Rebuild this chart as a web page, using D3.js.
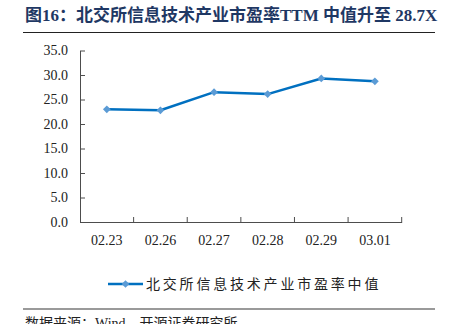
<!DOCTYPE html>
<html>
<head>
<meta charset="utf-8">
<script src="https://cdn.jsdelivr.net/npm/d3@7"></script>
<style>
  html, body { margin: 0; padding: 0; background: #fff; }
  svg { display: block; }
</style>
</head>
<body>
<div id="chart"></div>
<script>
// data
const dates = ['02.23', '02.26', '02.27', '02.28', '02.29', '03.01'];
const peMedian = [23.0, 22.8, 26.5, 26.1, 29.3, 28.7];
const yTicks = [0, 5, 10, 15, 20, 25, 30, 35];
const titleText = '图16：北交所信息技术产业市盈率TTM 中值升至 28.7X';
const seriesName = '北交所信息技术产业市盈率中值';
const sourceText = '数据来源：Wind、开源证券研究所';

const width = 456, height = 324;
const margin = {top: 50.5, left: 80, right: 54.3, bottom: 102};
const innerW = width - margin.left - margin.right,
      innerH = height - margin.top - margin.bottom;

const serif = '"Times New Roman", "Liberation Serif", "Noto Sans CJK SC", serif';
const axisColor = '#4d4d4d';
const lineColor = '#0070C0';
const markColor = '#5B9BD5';

const svg = d3.select('#chart')
  .append('svg')
  .attr('width', width)
  .attr('height', height);

// ----------------------------------
// title + rules
// ----------------------------------
svg.append('text')
  .attr('x', 25)
  .attr('y', 21)
  .text(titleText)
  .style('font-family', '"Times New Roman", "Liberation Serif", "Noto Sans CJK SC", serif')
  .style('font-size', '17px')
  .style('font-weight', 'bold')
  .style('fill', '#1F3864');

svg.append('line')
  .attr('x1', 23).attr('x2', 435)
  .attr('y1', 32.5).attr('y2', 32.5)
  .style('stroke', '#222')
  .style('stroke-width', 1);

svg.append('line')
  .attr('x1', 23).attr('x2', 435)
  .attr('y1', 309).attr('y2', 309)
  .style('stroke', '#9a9a9a')
  .style('stroke-width', 2);

svg.append('text')
  .attr('x', 25)
  .attr('y', 328)
  .text(sourceText)
  .style('font-family', serif)
  .style('font-size', '14px')
  .style('fill', '#222');

// ----------------------------------
// scales
// ----------------------------------
const x = d3.scaleBand()
  .domain(dates)
  .range([0, innerW])
  .padding(0);

const y = d3.scaleLinear()
  .domain([0, 35])
  .range([innerH, 0]);

const g = svg.append('g')
  .attr('transform', `translate(${margin.left},${margin.top})`);

// y axis, ticks point inward
const yAxis = d3.axisLeft(y)
  .tickValues(yTicks)
  .tickFormat(d3.format('.1f'))
  .tickSizeInner(-5)
  .tickSizeOuter(0)
  .tickPadding(12);

const yG = g.append('g')
  .attr('class', 'y axis')
  .call(yAxis);
yG.select('.domain').style('stroke', axisColor);
yG.selectAll('.tick line').style('stroke', axisColor);
yG.selectAll('text')
  .style('font-family', serif)
  .style('font-size', '14px')
  .style('fill', '#222');

// x axis: labels centred in bands, ticks on band edges
const xAxis = d3.axisBottom(x)
  .tickSize(0)
  .tickPadding(13);

const xG = g.append('g')
  .attr('class', 'x axis')
  .attr('transform', `translate(0,${innerH})`)
  .call(xAxis);
xG.select('.domain').style('stroke', axisColor);
xG.selectAll('text')
  .style('font-family', serif)
  .style('font-size', '14px')
  .style('fill', '#222');

const edges = dates.map(d => x(d)).concat([x.range()[1]]).slice(1);
xG.selectAll('.edge')
  .data(edges)
  .enter()
  .append('line')
  .attr('class', 'edge')
  .attr('x1', d => d).attr('x2', d => d)
  .attr('y1', 0).attr('y2', -5)
  .style('stroke', axisColor);

// ----------------------------------
// the series
// ----------------------------------
const points = dates.map((d, i) => ({date: d, value: peMedian[i]}));

const line = d3.line()
  .x(d => x(d.date) + x.bandwidth() / 2)
  .y(d => y(d.value));

g.append('path')
  .datum(points)
  .attr('d', line)
  .style('fill', 'none')
  .style('stroke', lineColor)
  .style('stroke-width', 2.5)
  .style('stroke-linejoin', 'round');

const diamond = d3.symbol().type(d3.symbolSquare).size(30);

g.selectAll('.mark')
  .data(points)
  .enter()
  .append('path')
  .attr('class', 'mark')
  .attr('d', diamond)
  .attr('transform', d => `translate(${x(d.date) + x.bandwidth() / 2},${y(d.value)}) rotate(45)`)
  .style('fill', markColor);

// ----------------------------------
// legend
// ----------------------------------
const legend = svg.append('g')
  .attr('transform', 'translate(0,284)');

legend.append('line')
  .attr('x1', 108).attr('x2', 143)
  .attr('y1', 0).attr('y2', 0)
  .style('stroke', lineColor)
  .style('stroke-width', 2.5);

legend.append('path')
  .attr('d', diamond)
  .attr('transform', 'translate(125.5,0) rotate(45)')
  .style('fill', markColor);

legend.append('text')
  .attr('x', 146)
  .attr('y', 0)
  .attr('dy', '0.36em')
  .text(seriesName)
  .style('font-family', '"Noto Sans CJK SC", sans-serif')
  .style('font-size', '14px')
  .style('letter-spacing', '2.8px')
  .style('fill', '#222');
</script>
</body>
</html>
